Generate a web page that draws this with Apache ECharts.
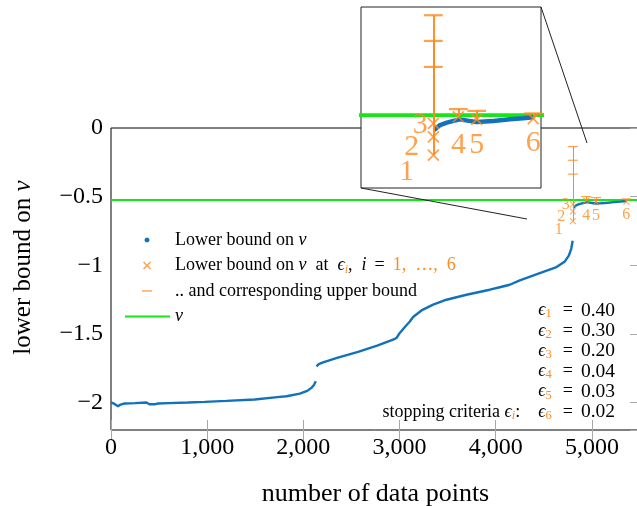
<!DOCTYPE html>
<html><head><meta charset="utf-8">
<script src="https://cdn.jsdelivr.net/npm/echarts@6/dist/echarts.min.js"></script>
<style>html,body{margin:0;padding:0;background:#fff}#c{width:637px;height:506px}</style>
</head><body><div id="c"></div>
<script>
// ---- data ----
const seg1X = [0, 40, 73, 100, 142, 250, 368, 400, 420, 460, 489, 600, 800, 974, 1200, 1494, 1755, 1826, 1963, 2040, 2084, 2110, 2129];
const seg1Y = [-1.998, -2.012, -2.027, -2.015, -2.007, -2.004, -2.0, -2.012, -2.022, -2.012, -2.007, -2.004, -2.0, -1.995, -1.988, -1.978, -1.959, -1.954, -1.935, -1.915, -1.893, -1.872, -1.845];
const seg2X = [2136, 2160, 2205, 2350, 2569, 2767, 2933, 2968, 3003, 3055, 3107, 3141, 3228, 3349, 3488, 3696, 3938, 4042, 4146, 4250, 4458, 4632, 4719, 4760, 4785, 4800];
const seg2Y = [-1.736, -1.72, -1.707, -1.675, -1.631, -1.585, -1.542, -1.53, -1.493, -1.45, -1.41, -1.377, -1.329, -1.287, -1.251, -1.215, -1.178, -1.16, -1.142, -1.11, -1.057, -1.013, -0.972, -0.93, -0.88, -0.822];
const seg3X = [4806, 4839, 4877, 4920, 4950, 5000, 5043, 5090, 5136, 5228, 5300, 5358];
const seg3Y = [-0.582, -0.562, -0.553, -0.545, -0.540, -0.546, -0.550, -0.548, -0.546, -0.540, -0.536, -0.532];
const markerX = [4802, 4802, 4802, 4941, 5043, 5358];
const lowerB = [-0.679, -0.608, -0.556, -0.530, -0.540, -0.537];
const upperB = [-0.135, -0.235, -0.336, -0.500, -0.507, -0.517];
const markerLabels = ['1', '2', '3', '4', '5', '6'];
const nu = -0.524;
const epsValues = ['0.40', '0.30', '0.20', '0.04', '0.03', '0.02'];
const xRange = [0, 5500];
const yRange = [-2.2, 0];
const insetX = [4399, 5401];
const insetY = [-0.807, -0.103];

// ---- style ----
const FONT = '"Liberation Serif", "DejaVu Serif", serif';
const BLUE = '#1271bb', ORANGE = '#ff8a1f', GREEN = '#14e814';
const LB = 'Lower bound on ν';
const LBE = 'Lower bound on ν at ϵi, i = 1, …, 6';
const UB = '.. and corresponding upper bound';
const NU = 'ν';
const CROSS = 'path://M0,1L1,0L10,9L9,10Z M9,0L10,1L1,10L0,9Z';
const labelOffsets = [[-14.2, 8.9], [-11.6, 5.3], [-7.1, 0.9], [0, 15.1], [0, 13.7], [0, 13.4]];
const BOX = 'M0,0M45,0M45,20M0,20';
const ICON_DOT = 'path://' + BOX + 'M22,7.4L23.8,8.2L24.6,10L23.8,11.8L22,12.6L20.2,11.8L19.4,10L20.2,8.2Z';
const ICON_X = 'path://' + BOX + 'M18,7L19,6L26,13L25,14Z M25,6L26,7L19,14L18,13Z';
const ICON_DASH = 'path://' + BOX + 'M17,9.3L27,9.3L27,10.7L17,10.7Z';
const ICON_LINE = 'path://' + BOX + 'M0,9L45,9L45,11L0,11Z';
const GRID_W = 529, GRID_H = 302;

const zip = (xs, ys) => xs.map((x, i) => [x, ys[i]]);

function buildSeries(ax, k, zBase) {
  const s = [];
  s.push({type: 'line', name: NU, xAxisIndex: ax, yAxisIndex: ax, data: [[xRange[0], nu], [xRange[1], nu]],
    symbol: 'none', lineStyle: {color: GREEN, width: 2 * k}, itemStyle: {color: GREEN}, z: zBase, silent: true});
  [[seg1X, seg1Y], [seg2X, seg2Y], [seg3X, seg3Y]].forEach(([xs, ys]) => {
    s.push({type: 'line', name: LB, xAxisIndex: ax, yAxisIndex: ax, data: zip(xs, ys),
      symbol: 'none', showSymbol: false, lineStyle: {color: BLUE, width: 2.4 * k}, itemStyle: {color: BLUE}, z: zBase + 1, silent: true});
  });
  s.push({type: 'lines', coordinateSystem: 'cartesian2d', xAxisIndex: ax, yAxisIndex: ax,
    data: markerX.map((x, i) => ({coords: [[x, lowerB[i]], [x, upperB[i]]]})),
    lineStyle: {color: ORANGE, width: 1 * k, opacity: 1}, z: zBase + 2, silent: true});
  s.push({type: 'scatter', name: UB, xAxisIndex: ax, yAxisIndex: ax, data: zip(markerX, upperB),
    symbol: 'rect', symbolSize: [10 * k, 1.2 * k], itemStyle: {color: ORANGE}, z: zBase + 3, silent: true});
  s.push({type: 'scatter', name: LBE, xAxisIndex: ax, yAxisIndex: ax,
    data: zip(markerX, lowerB).map((v, i) => ({value: v, label: {offset: [labelOffsets[i][0] * k, labelOffsets[i][1] * k]}})),
    symbol: CROSS, symbolSize: 6.5 * k, itemStyle: {color: ORANGE}, z: zBase + 4, silent: true,
    label: {show: true, position: 'inside', formatter: p => markerLabels[p.dataIndex], color: ORANGE,
      fontFamily: FONT, fontSize: 16 * k}});
  return s;
}

const tickStyle = () => ({show: true, inside: false, length: 10, lineStyle: {color: '#a8a8a8', width: 1}});
// Tick-only axes placed on the opposite edge so their outward ticks point into the plot
const tickXAxis = (pos) => ({type: 'value', gridIndex: 0, min: xRange[0], max: xRange[1], interval: 1000, position: pos,
  offset: -GRID_H, axisLine: {show: false}, axisTick: tickStyle(), splitLine: {show: false}, axisLabel: {show: false}});
const tickYAxis = (pos) => ({type: 'value', gridIndex: 0, min: yRange[0], max: yRange[1], position: pos,
  offset: -GRID_W, axisLine: {show: false}, axisTick: tickStyle(), splitLine: {show: false}, axisLabel: {show: false}});

const legendRich = {};
legendRich[LB] = 'Lower bound on {m|ν}';
legendRich[LBE] = 'Lower bound on {m|ν}{t|  at  }{m|ϵ}{sub|i}{t|,  }{m|i}{eq|=}{o|1,  …,  6}';
legendRich[UB] = '.. and corresponding upper bound';
legendRich[NU] = '{m|ν}';

const epsLines = epsValues.map((v, i) => (i === epsValues.length - 1 ? '{t|stopping criteria }{e|ϵ}{si|i}{t|:    }' : '') +
  '{e|ϵ}{s|' + (i + 1) + '}{eq|=}{n|' + v + '}');

const chart = echarts.init(document.getElementById('c'));
chart.setOption({
  animation: false,
  backgroundColor: '#fff',
  grid: [
    {left: 111, top: 128, width: GRID_W, height: GRID_H, show: true, borderColor: '#000', borderWidth: 1,
      backgroundColor: 'transparent', z: 0, containLabel: false, outerBoundsMode: 'none'},
    {left: 361, top: 7, width: 180, height: 181, show: true, borderColor: '#222', borderWidth: 1,
      backgroundColor: '#fff', z: 5, containLabel: false, outerBoundsMode: 'none'}
  ],
  xAxis: [
    {type: 'value', gridIndex: 0, min: xRange[0], max: xRange[1], interval: 1000, position: 'bottom',
      axisLine: {show: false}, axisTick: {show: false}, splitLine: {show: false},
      axisLabel: {showMaxLabel: false, margin: 6, color: '#000', fontFamily: FONT, fontSize: 24, formatter: v => v.toLocaleString('en-US')},
      name: 'number of data points', nameLocation: 'middle', nameGap: 51,
      nameTextStyle: {color: '#000', fontFamily: FONT, fontSize: 26}},
    tickXAxis('top'),
    tickXAxis('bottom'),
    {type: 'value', gridIndex: 1, min: insetX[0], max: insetX[1], show: false}
  ],
  yAxis: [
    {type: 'value', gridIndex: 0, min: yRange[0], max: yRange[1], position: 'left',
      axisLine: {show: false}, axisTick: {show: false}, splitLine: {show: false},
      axisLabel: {showMinLabel: false, margin: 8, color: '#000', fontFamily: FONT, fontSize: 24,
        formatter: v => (v < 0 ? '−' : '') + Math.abs(v)},
      name: 'lower bound on {m|ν}', nameLocation: 'middle', nameGap: 75,
      nameTextStyle: {color: '#000', fontFamily: FONT, fontSize: 25, padding: [0, 0, 0, 23],
        rich: {m: {fontStyle: 'italic', fontFamily: FONT, fontSize: 25, color: '#000'}}}},
    tickYAxis('right'),
    tickYAxis('left'),
    {type: 'value', gridIndex: 1, min: insetY[0], max: insetY[1], show: false}
  ],
  legend: {
    left: 120, top: 225, orient: 'vertical', itemWidth: 45, itemHeight: 20, itemGap: 5.5,
    selectedMode: false,
    formatter: name => legendRich[name],
    textStyle: {color: '#000', fontFamily: FONT, fontSize: 18, lineHeight: 20,
      rich: {
        t: {fontFamily: FONT, fontSize: 18, color: '#000', lineHeight: 20},
        m: {fontStyle: 'italic', fontFamily: FONT, fontSize: 18, color: '#000', lineHeight: 20},
        sub: {fontStyle: 'italic', fontFamily: FONT, fontSize: 12, color: ORANGE, lineHeight: 10, verticalAlign: 'bottom'},
        eq: {fontFamily: FONT, fontSize: 18, color: '#000', lineHeight: 20, padding: [0, 8, 0, 8]},
        o: {fontFamily: FONT, fontSize: 18, color: ORANGE, lineHeight: 20}
      }},
    data: [
      {name: LB, icon: ICON_DOT, itemStyle: {color: BLUE, borderWidth: 0}},
      {name: LBE, icon: ICON_X, itemStyle: {color: ORANGE, borderWidth: 0}},
      {name: UB, icon: ICON_DASH, itemStyle: {color: ORANGE, borderWidth: 0}},
      {name: NU, icon: ICON_LINE, itemStyle: {color: GREEN, borderWidth: 0}}
    ]
  },
  graphic: [
    {type: 'line', shape: {x1: 541, y1: 7, x2: 587, y2: 143}, style: {stroke: '#222', lineWidth: 1}, z: 20, silent: true},
    {type: 'line', shape: {x1: 361, y1: 188, x2: 527, y2: 219}, style: {stroke: '#222', lineWidth: 1}, z: 20, silent: true},
    {type: 'text', x: 615, y: 300.4, z: 20, silent: true,
      style: {text: epsLines.join('\n'), align: 'right', verticalAlign: 'top', fill: '#000',
        fontFamily: FONT, fontSize: 18, lineHeight: 20.3,
        rich: {
          t: {fontFamily: FONT, fontSize: 18, fill: '#000', lineHeight: 20.3},
          n: {fontFamily: FONT, fontSize: 19.5, fill: '#000', lineHeight: 20.3},
          eq: {fontFamily: FONT, fontSize: 18, fill: '#000', lineHeight: 20.3, padding: [0, 8, 0, 11]},
          e: {fontFamily: FONT, fontSize: 18, fontStyle: 'italic', fill: '#000', lineHeight: 20.3},
          s: {fontFamily: FONT, fontSize: 12.5, fill: ORANGE, lineHeight: 10, verticalAlign: 'bottom'},
          si: {fontFamily: FONT, fontSize: 12.5, fontStyle: 'italic', fill: ORANGE, lineHeight: 10, verticalAlign: 'bottom'}
        }}}
  ],
  series: buildSeries(0, 1, 2).concat(buildSeries(3, 1.87, 8))
});
</script>
</body></html>
